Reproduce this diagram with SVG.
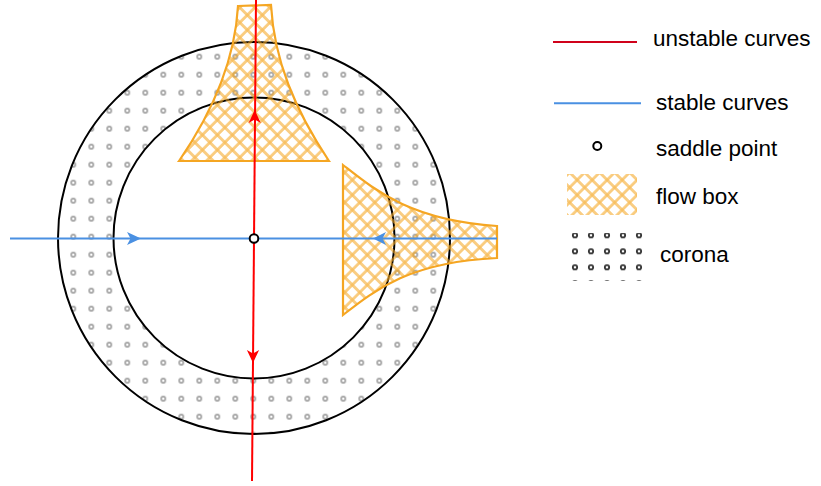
<svg xmlns="http://www.w3.org/2000/svg" width="821" height="486" viewBox="0 0 821 486">
  <style>
    .ring { fill: none; stroke: #000; stroke-width: 2; }
    .box { fill: url(#hatch); stroke: #F5A623; stroke-width: 2.2; stroke-linejoin: miter; }
    .red { stroke: #FF0000; stroke-width: 2; fill: none; }
    .blue { stroke: #4A90E2; stroke-width: 2; fill: none; }
    .redhead { fill: #FF0000; }
    .bluehead { fill: #4A90E2; }
    .saddle { fill: #fff; stroke: #000; stroke-width: 2; }
    .label { font-family: "Liberation Sans", Arial, sans-serif; font-size: 22.5px; fill: #000; }
  </style>
  <defs>
    <pattern id="dots" patternUnits="userSpaceOnUse" x="64.3" y="47.7" width="18" height="18">
      <circle cx="9" cy="9" r="2.1" fill="none" stroke="#A0A0A0" stroke-width="1.6"/>
    </pattern>
    <pattern id="dotsLegend" patternUnits="userSpaceOnUse" x="567" y="227.3" width="16" height="16">
      <circle cx="8" cy="8" r="2.2" fill="none" stroke="#333" stroke-width="1.8"/>
    </pattern>
    <pattern id="hatch" patternUnits="userSpaceOnUse" width="10.6" height="10.6" patternTransform="rotate(45)">
      <path d="M0,4.7 H10.6 M0,6 H10.6 M4.7,0 V10.6 M6,0 V10.6" stroke="#F5A623" stroke-opacity="0.75" stroke-width="1.1"/>
    </pattern>
  </defs>

  <g id="corona">
    <path d="M58,238 a196,196 0 1,0 392,0 a196,196 0 1,0 -392,0 Z M113.5,238 a140.5,140.5 0 1,0 281,0 a140.5,140.5 0 1,0 -281,0 Z" fill="url(#dots)" fill-rule="evenodd"/>
    <circle class="ring" cx="254" cy="238" r="196"/>
    <circle class="ring" cx="254" cy="238" r="140.5"/>
  </g>

  <g id="flowbox-vertical">
    <path class="box" d="M238,6 L271,5 C274,60 295,110 329,161 L179,161 C214,110 235,60 238,6 Z"/>
  </g>
  <g id="flowbox-horizontal">
    <path class="box" d="M343,165 C375,190 410,220 497,226 L497,258 C410,262 375,290 343,315 Z"/>
  </g>

  <g id="connectors">
    <line class="red" x1="256" y1="0" x2="252" y2="481"/>
    <line class="blue" x1="10" y1="238.5" x2="497" y2="238.5"/>
    <path class="redhead" d="M254.7,110 L260.8,123 L254.7,119.5 L248.6,123 Z"/>
    <path class="redhead" d="M253,363 L246.9,350 L253,353.5 L259.1,350 Z"/>
    <path class="bluehead" d="M141,238.5 L127,232 L130.5,238.5 L127,245 Z"/>
    <path class="bluehead" d="M373,238.5 L386,232 L382.5,238.5 L386,245 Z"/>
  </g>

  <g id="saddle-point">
    <circle class="saddle" cx="254" cy="238.5" r="4.3"/>
  </g>

  <g id="legend">
    <g id="legend-unstable">
      <line x1="553" y1="42" x2="637" y2="42" stroke="#D0021B" stroke-width="2"/>
      <text class="label" x="653" y="46">unstable curves</text>
    </g>
    <g id="legend-stable">
      <line x1="554" y1="103.3" x2="641" y2="103.3" stroke="#4A90E2" stroke-width="2"/>
      <text class="label" x="656" y="110">stable curves</text>
    </g>
    <g id="legend-saddle">
      <circle cx="597.3" cy="146" r="4" fill="#fff" stroke="#000" stroke-width="2"/>
      <text class="label" x="656" y="156">saddle point</text>
    </g>
    <g id="legend-flowbox">
      <rect x="567" y="174" width="70" height="41" fill="url(#hatch)"/>
      <text class="label" x="656" y="204">flow box</text>
    </g>
    <g id="legend-corona">
      <rect x="567" y="233" width="77" height="48" fill="url(#dotsLegend)"/>
      <text class="label" x="660" y="262">corona</text>
    </g>
  </g>
</svg>
